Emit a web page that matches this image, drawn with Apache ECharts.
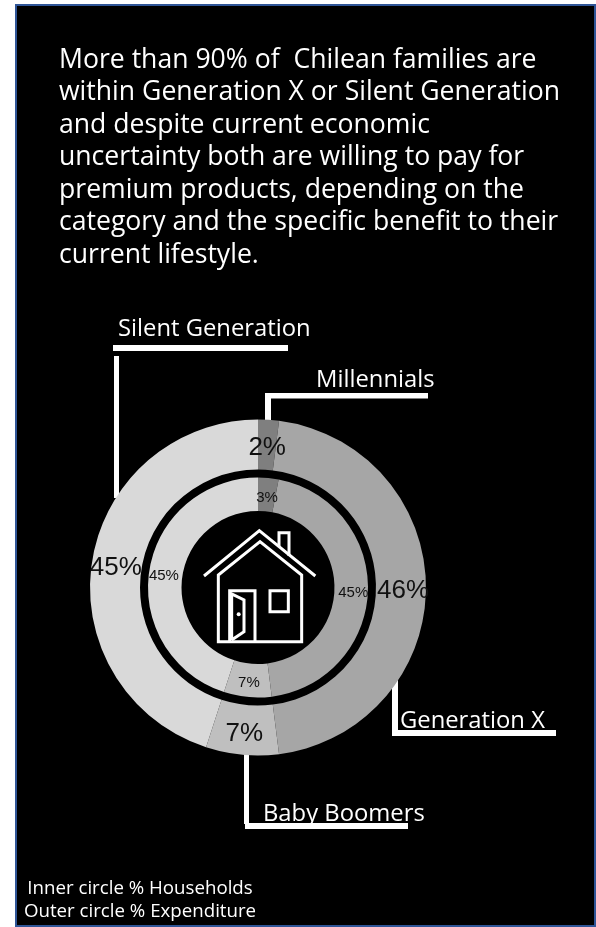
<!DOCTYPE html>
<html>
<head>
<meta charset="utf-8">
<style>
  html, body { margin: 0; padding: 0; background: #fff; }
  #chart { width: 596px; height: 927px; }
</style>
<script src="https://cdn.jsdelivr.net/npm/echarts@6/dist/echarts.min.js"></script>
</head>
<body>
<div id="chart"></div>
<script>
// Generational split of Chilean households and expenditure
const categories = ['Millennials', 'Generation X', 'Baby Boomers', 'Silent Generation'];
const expenditureShare = [2, 46, 7, 45];
const householdShare = [3, 45, 7, 45];
const sliceColors = ['#7f7f7f', '#a6a6a6', '#bfbfbf', '#d9d9d9'];
const headlineLines = [
  'More than 90% of  Chilean families are',
  'within Generation X or Silent Generation',
  'and despite current economic',
  'uncertainty both are willing to pay for',
  'premium products, depending on the',
  'category and the specific benefit to their',
  'current lifestyle.'
];
const footnoteLines = ['Inner circle % Households', 'Outer circle % Expenditure'];

const UI_FONT = '"Open Sans", "Noto Sans", sans-serif';

// Small per-slice label shifts so the percentages sit clear of the ring edges
const outerLabelShift = [[0, 6], [-1, 3], [0, 1], [2, 3]];
const innerLabelShift = [[0, 6], [-1, 2], [0, 0], [1, 3]];

function toSlices(values, shifts) {
  return values.map((v, i) => ({
    name: categories[i],
    value: v,
    itemStyle: { color: sliceColors[i] },
    label: { offset: shifts[i] }
  }));
}

function text(str, x, y, size, align) {
  return {
    type: 'text', x, y, silent: true,
    style: {
      text: str, fill: '#fff', font: size + 'px ' + UI_FONT,
      textAlign: align || 'left', textVerticalAlign: 'middle'
    }
  };
}

function bar(x, y, w, h) {
  return { type: 'rect', silent: true, shape: { x, y, width: w, height: h }, style: { fill: '#fff' } };
}

// Icon strokes are authored on a 3x grid anchored at the chart's upper-left corner
function icon(points, closed) {
  return {
    type: closed ? 'polygon' : 'polyline',
    silent: true, z: 5,
    shape: { points: points.map(p => [80 + p[0] / 3, 400 + p[1] / 3]) },
    style: { stroke: '#fff', fill: null, lineWidth: 3, lineJoin: 'miter', lineCap: 'butt' }
  };
}

const houseIcon = [
  icon([[372, 528], [538, 392], [706, 528]]),
  icon([[415, 725], [415, 525], [540, 425], [665, 525], [665, 725]], true),
  icon([[597, 440], [597, 398], [627, 398], [627, 468]]),
  icon([[449, 725], [449, 572], [525, 572], [525, 725]]),
  icon([[455, 720], [455, 582], [492, 600], [492, 695], [455, 720]]),
  icon([[570, 572], [625, 572], [625, 635], [570, 635]], true),
  {
    type: 'circle', silent: true, z: 5,
    shape: { cx: 80 + 476 / 3, cy: 400 + 643 / 3, r: 2 },
    style: { fill: '#fff' }
  }
];

const frame = {
  type: 'rect', silent: true, z: -10,
  shape: { x: 16, y: 5, width: 579, height: 921 },
  style: { fill: '#000', stroke: '#2f5597', lineWidth: 2 }
};

const leaders = [
  bar(113, 345, 175, 6), bar(114, 356, 5, 142),
  bar(265, 393, 163, 5.5), bar(265, 398, 6, 28),
  bar(392, 675, 6, 60), bar(392, 730, 164, 6),
  bar(244, 750, 5, 74), bar(245, 823, 163, 6)
];

const captions = [
  text(categories[3], 118, 329, 23.8),
  text(categories[0], 316, 380, 23.8),
  text(categories[1], 400, 721, 23.8),
  text(categories[2], 263, 814, 23.8)
];

const headline = headlineLines.map((l, i) => text(l, 59, 60 + i * 32.5, 26.6));
const footnotes = footnoteLines.map((l, i) => text(l, 140, 889 + i * 23, 18.7, 'center'));

function ring(name, values, shifts, radius, labelFont) {
  return {
    type: 'pie', name,
    center: [258, 587.5],
    radius,
    startAngle: 90,
    clockwise: true,
    avoidLabelOverlap: false,
    silent: true,
    animation: false,
    data: toSlices(values, shifts),
    labelLine: { show: false },
    label: {
      show: true, position: 'inside', formatter: '{c}%',
      color: '#111', fontFamily: '"Liberation Sans", Arial, sans-serif', ...labelFont
    }
  };
}

const chart = echarts.init(document.getElementById('chart'), null, { renderer: 'canvas' });
chart.setOption({
  backgroundColor: '#fff',
  animation: false,
  series: [
    ring('Outer circle % Expenditure', expenditureShare, outerLabelShift, [118, 168], { fontSize: 26 }),
    ring('Inner circle % Households', householdShare, innerLabelShift, [76.5, 110], { fontSize: 15 })
  ],
  graphic: { elements: [frame, ...leaders, ...captions, ...headline, ...footnotes, ...houseIcon] }
});
</script>
</body>
</html>
